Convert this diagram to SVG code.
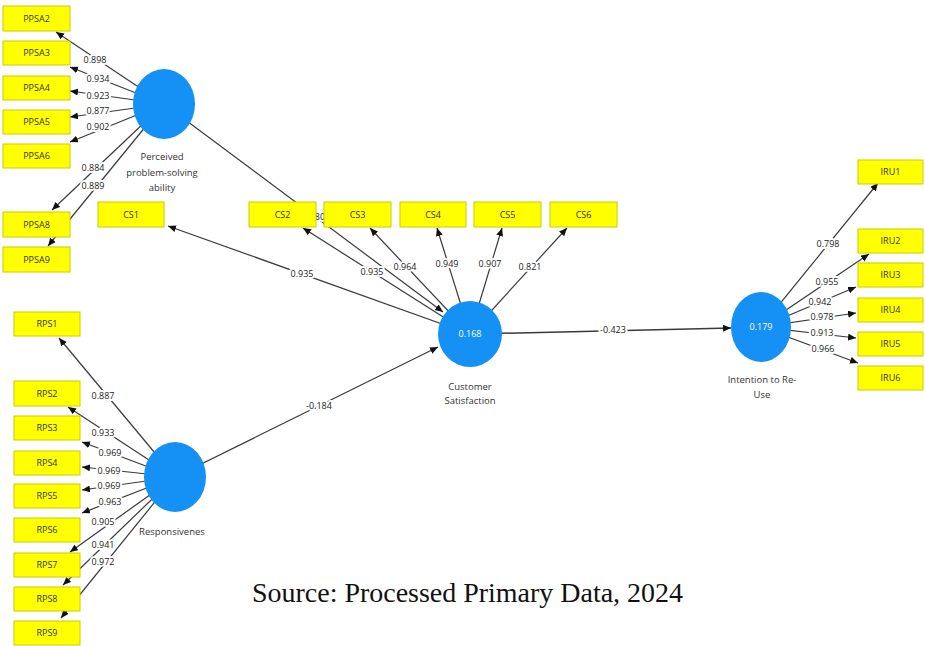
<svg xmlns="http://www.w3.org/2000/svg" width="925" height="646" viewBox="0 0 925 646">
<defs>
<marker id="ah" markerUnits="userSpaceOnUse" markerWidth="9" markerHeight="8" refX="8" refY="3.5" orient="auto">
<path d="M0,0 L8,3.5 L0,7 Z" fill="#111"/>
</marker>
<style>
.ln{stroke:#3a3a3a;stroke-width:1.2;fill:none;marker-end:url(#ah)}
.lb{font-family:"Open Sans","DejaVu Sans",sans-serif;font-size:9px;fill:#222;text-anchor:middle;stroke:#fff;stroke-width:4;stroke-linejoin:round;paint-order:stroke}
.bx rect{fill:#ffff00;stroke:#cccc00;stroke-width:1}
.bx text{font-family:"Open Sans","DejaVu Sans",sans-serif;font-size:9px;fill:#333;text-anchor:middle}
.lv ellipse{fill:#1591f5}
.lv .v{font-family:"Open Sans","DejaVu Sans",sans-serif;font-size:9px;fill:#fff;text-anchor:middle}
.lv .n{font-family:"Open Sans","DejaVu Sans",sans-serif;font-size:9.5px;fill:#333;text-anchor:middle}
</style>
</defs>
<rect width="925" height="646" fill="#fff"/>
<g id="connectors">
<line class="ln" x1="164" y1="104" x2="56" y2="32"/>
<line class="ln" x1="164" y1="104" x2="70" y2="67"/>
<line class="ln" x1="164" y1="104" x2="70" y2="91"/>
<line class="ln" x1="164" y1="104" x2="70" y2="117"/>
<line class="ln" x1="164" y1="104" x2="70" y2="142"/>
<line class="ln" x1="164" y1="104" x2="52" y2="210"/>
<line class="ln" x1="164" y1="104" x2="48" y2="246"/>
<line class="ln" x1="164" y1="104" x2="443" y2="312"/>
<line class="ln" x1="470" y1="334" x2="168" y2="226"/>
<line class="ln" x1="470" y1="334" x2="303" y2="228"/>
<line class="ln" x1="470" y1="334" x2="370" y2="228"/>
<line class="ln" x1="470" y1="334" x2="437" y2="228"/>
<line class="ln" x1="470" y1="334" x2="502" y2="228"/>
<line class="ln" x1="470" y1="334" x2="567" y2="228"/>
<line class="ln" x1="175" y1="477" x2="438" y2="347"/>
<line class="ln" x1="470" y1="334" x2="731" y2="328" style="stroke-width:1.5"/>
<line class="ln" x1="761" y1="327" x2="878" y2="183"/>
<line class="ln" x1="761" y1="327" x2="869" y2="254"/>
<line class="ln" x1="761" y1="327" x2="856" y2="287"/>
<line class="ln" x1="761" y1="327" x2="856" y2="313"/>
<line class="ln" x1="761" y1="327" x2="856" y2="338"/>
<line class="ln" x1="761" y1="327" x2="858" y2="363"/>
<line class="ln" x1="175" y1="477" x2="59" y2="338"/>
<line class="ln" x1="175" y1="477" x2="68" y2="407"/>
<line class="ln" x1="175" y1="477" x2="82" y2="442"/>
<line class="ln" x1="175" y1="477" x2="82" y2="467"/>
<line class="ln" x1="175" y1="477" x2="82" y2="490"/>
<line class="ln" x1="175" y1="477" x2="82" y2="513"/>
<line class="ln" x1="175" y1="477" x2="70" y2="552"/>
<line class="ln" x1="175" y1="477" x2="63" y2="585"/>
<line class="ln" x1="175" y1="477" x2="61" y2="618"/>
<g id="edge-labels">
<text class="lb" x="95" y="63">0.898</text>
<text class="lb" x="98" y="82">0.934</text>
<text class="lb" x="98" y="99">0.923</text>
<text class="lb" x="98" y="114">0.877</text>
<text class="lb" x="98" y="130">0.902</text>
<text class="lb" x="93" y="171">0.884</text>
<text class="lb" x="93" y="189">0.889</text>
<text class="lb" x="320" y="220">80</text>
<text class="lb" x="302" y="277">0.935</text>
<text class="lb" x="372" y="275">0.935</text>
<text class="lb" x="405" y="270">0.964</text>
<text class="lb" x="447" y="267">0.949</text>
<text class="lb" x="490" y="267">0.907</text>
<text class="lb" x="530" y="270">0.821</text>
<text class="lb" x="319" y="409">-0.184</text>
<text class="lb" x="613" y="333">-0.423</text>
<text class="lb" x="828" y="247">0.798</text>
<text class="lb" x="827" y="285">0.955</text>
<text class="lb" x="820" y="305">0.942</text>
<text class="lb" x="822" y="320">0.978</text>
<text class="lb" x="822" y="336">0.913</text>
<text class="lb" x="823" y="352">0.966</text>
<text class="lb" x="103" y="399">0.887</text>
<text class="lb" x="103" y="436">0.933</text>
<text class="lb" x="110" y="456">0.969</text>
<text class="lb" x="109" y="474">0.969</text>
<text class="lb" x="109" y="489">0.969</text>
<text class="lb" x="110" y="505">0.963</text>
<text class="lb" x="103" y="525">0.905</text>
<text class="lb" x="103" y="548">0.941</text>
<text class="lb" x="103" y="565">0.972</text>
</g>
</g>
<g id="PPSA2" class="bx"><rect x="3" y="6" width="67" height="25"/><text x="36.5" y="21.5">PPSA2</text></g>
<g id="PPSA3" class="bx"><rect x="3" y="41" width="67" height="24"/><text x="36.5" y="56">PPSA3</text></g>
<g id="PPSA4" class="bx"><rect x="3" y="76" width="67" height="24"/><text x="36.5" y="91">PPSA4</text></g>
<g id="PPSA5" class="bx"><rect x="3" y="110" width="67" height="24"/><text x="36.5" y="125">PPSA5</text></g>
<g id="PPSA6" class="bx"><rect x="3" y="144" width="67" height="24"/><text x="36.5" y="159">PPSA6</text></g>
<g id="PPSA8" class="bx"><rect x="3" y="212" width="67" height="25"/><text x="36.5" y="227.5">PPSA8</text></g>
<g id="PPSA9" class="bx"><rect x="3" y="247" width="67" height="25"/><text x="36.5" y="262.5">PPSA9</text></g>
<g id="CS1" class="bx"><rect x="98" y="202" width="66" height="25"/><text x="131" y="217.5">CS1</text></g>
<g id="CS2" class="bx"><rect x="249" y="202" width="67" height="25"/><text x="282.5" y="217.5">CS2</text></g>
<g id="CS3" class="bx"><rect x="324" y="202" width="67" height="25"/><text x="357.5" y="217.5">CS3</text></g>
<g id="CS4" class="bx"><rect x="400" y="202" width="66" height="25"/><text x="433" y="217.5">CS4</text></g>
<g id="CS5" class="bx"><rect x="474" y="202" width="67" height="25"/><text x="507.5" y="217.5">CS5</text></g>
<g id="CS6" class="bx"><rect x="550" y="202" width="67" height="25"/><text x="583.5" y="217.5">CS6</text></g>
<g id="IRU1" class="bx"><rect x="858" y="160" width="65" height="24"/><text x="890.5" y="175">IRU1</text></g>
<g id="IRU2" class="bx"><rect x="858" y="229" width="65" height="24"/><text x="890.5" y="244">IRU2</text></g>
<g id="IRU3" class="bx"><rect x="858" y="263" width="65" height="24"/><text x="890.5" y="278">IRU3</text></g>
<g id="IRU4" class="bx"><rect x="858" y="298" width="65" height="24"/><text x="890.5" y="313">IRU4</text></g>
<g id="IRU5" class="bx"><rect x="858" y="332" width="65" height="24"/><text x="890.5" y="347">IRU5</text></g>
<g id="IRU6" class="bx"><rect x="858" y="366" width="65" height="24"/><text x="890.5" y="381">IRU6</text></g>
<g id="RPS1" class="bx"><rect x="14" y="312" width="66" height="24"/><text x="47" y="327">RPS1</text></g>
<g id="RPS2" class="bx"><rect x="14" y="381" width="66" height="25"/><text x="47" y="396.5">RPS2</text></g>
<g id="RPS3" class="bx"><rect x="14" y="416" width="66" height="24"/><text x="47" y="431">RPS3</text></g>
<g id="RPS4" class="bx"><rect x="14" y="451" width="66" height="24"/><text x="47" y="466">RPS4</text></g>
<g id="RPS5" class="bx"><rect x="14" y="484" width="66" height="24"/><text x="47" y="499">RPS5</text></g>
<g id="RPS6" class="bx"><rect x="14" y="518" width="66" height="24"/><text x="47" y="533">RPS6</text></g>
<g id="RPS7" class="bx"><rect x="14" y="553" width="66" height="24"/><text x="47" y="568">RPS7</text></g>
<g id="RPS8" class="bx"><rect x="14" y="587" width="66" height="24"/><text x="47" y="602">RPS8</text></g>
<g id="RPS9" class="bx"><rect x="14" y="621" width="66" height="24"/><text x="47" y="636">RPS9</text></g>
<g id="PPSA" class="lv"><ellipse cx="164" cy="104" rx="31" ry="35"/><text class="n" x="162" y="160">Perceived</text><text class="n" x="162" y="176">problem-solving</text><text class="n" x="162" y="191">ability</text></g>
<g id="CS" class="lv"><ellipse cx="470" cy="334" rx="32" ry="33"/><text class="v" x="470" y="337">0.168</text><text class="n" x="470" y="390">Customer</text><text class="n" x="470" y="404">Satisfaction</text></g>
<g id="IRU" class="lv"><ellipse cx="761" cy="327" rx="30" ry="35"/><text class="v" x="761" y="330">0.179</text><text class="n" x="762" y="383">Intention to Re-</text><text class="n" x="762" y="398">Use</text></g>
<g id="RPS" class="lv"><ellipse cx="175" cy="477" rx="31" ry="35"/><text class="n" x="172" y="535">Responsivenes</text></g>
<text x="252" y="602" font-family="Liberation Serif, serif" font-size="27" textLength="431" lengthAdjust="spacingAndGlyphs" fill="#111">Source: Processed Primary Data, 2024</text>
</svg>
